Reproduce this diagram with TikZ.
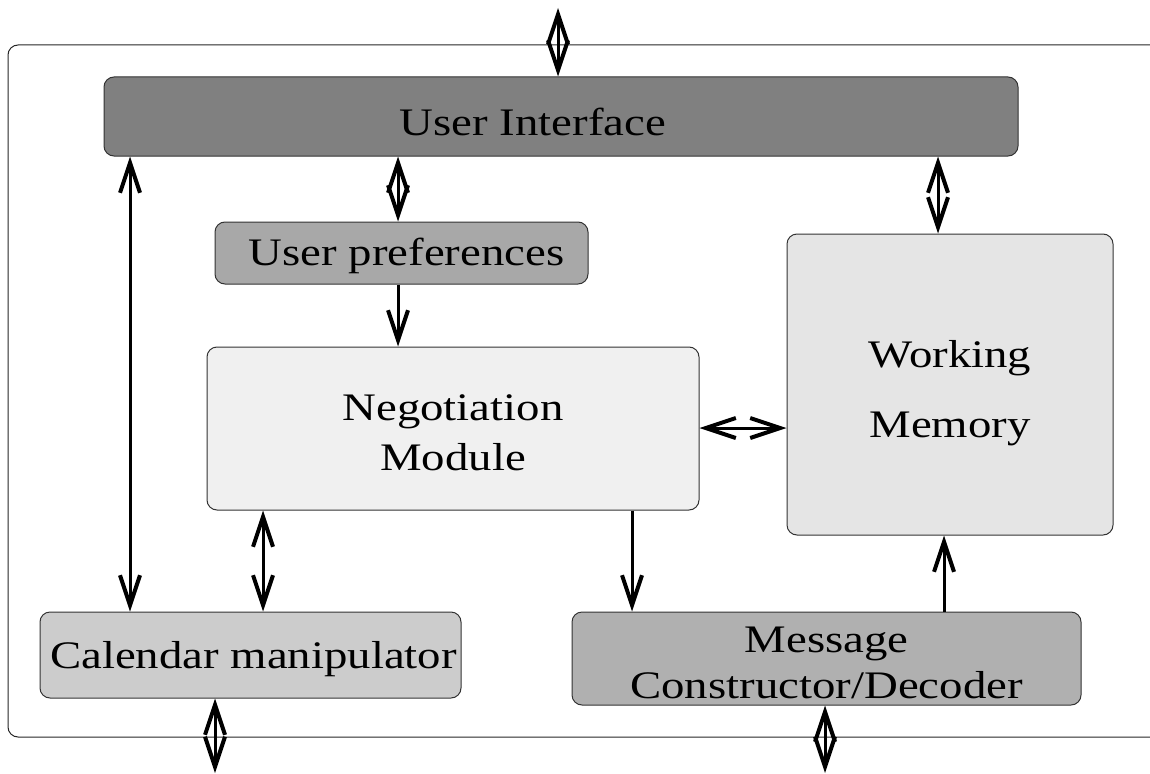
\documentclass[tikz,border=0pt]{standalone}
\usepackage{fontspec}
\newfontfamily\lblfont[FakeStretch=1.2]{Liberation Serif}
\usetikzlibrary{arrows.meta}
\definecolor{uigray}{gray}{0.50}
\definecolor{prefgray}{gray}{0.66}
\definecolor{neggray}{gray}{0.94}
\definecolor{memgray}{gray}{0.90}
\definecolor{calgray}{gray}{0.80}
\definecolor{msggray}{gray}{0.69}
\definecolor{edgegray}{gray}{0.2}
\tikzset{
  module/.style={draw=edgegray, line width=1pt, rounded corners=10pt, inner sep=0pt},
  caption/.style={inner sep=0pt, align=center, text=black, yshift=-4pt,
    font=\lblfont\fontsize{39}{50}\selectfont},
  barb/.tip={Straight Barb[length=30pt,width=20pt,line width=4pt]},
  link/.style={line width=3pt, -barb},
  dlink/.style={line width=3pt, barb-barb},
  frame/.style={draw=black!85, line width=1pt, rounded corners=10pt}
}
\begin{document}
\begin{tikzpicture}[x=1pt,y=-1pt]
\useasboundingbox (0,0) rectangle (1150,773);

% enclosing agent frame, open on the right
\draw[frame] (1150,45) -- (8,45) -- (8,737) -- (1150,737);

% modules, each with its caption
\node[module, fill=uigray, minimum width=914pt, minimum height=79pt,
      label={[caption, xshift=-28pt, yshift=-1pt]center:User Interface}] (ui) at (561,116.5) {};
\node[module, fill=prefgray, minimum width=373pt, minimum height=62pt,
      label={[caption, xshift=5pt, yshift=1pt]center:User preferences}] (up) at (401.5,253) {};
\node[module, fill=neggray, minimum width=492pt, minimum height=163pt,
      label={[caption]center:Negotiation\\Module}] (neg) at (453,428.5) {};
\node[module, fill=memgray, minimum width=326pt, minimum height=301pt,
      label={[caption, font=\lblfont\fontsize{39}{70}\selectfont, yshift=-5pt]center:Working\\Memory}] (wm) at (950,384.5) {};
\node[module, fill=calgray, minimum width=421pt, minimum height=86pt,
      label={[caption, xshift=3pt]center:Calendar manipulator}] (cal) at (250.5,655) {};
\node[module, fill=msggray, minimum width=509pt, minimum height=93pt,
      label={[caption, font=\lblfont\fontsize{39}{46}\selectfont]center:Message\\Constructor/Decoder}] (msg) at (826.5,658.5) {};

% free ends outside the frame
\coordinate (ext-top) at (558,8);
\coordinate (ext-cal) at (215,773);
\coordinate (ext-msg) at (825,773);

% connectors
\draw[dlink] (ext-top) -- (ext-top |- ui.north);
\draw[dlink] (ui.south -| 398,0) -- (up.north -| 398,0);
\draw[dlink] (ui.south -| 938,0) -- (wm.north -| 938,0);
\draw[dlink] (ui.south -| 130,0) -- (cal.north -| 130,0);
\draw[link] (up.south -| 398,0) -- (neg.north -| 398,0);
\draw[dlink] (neg.east |- 0,428) -- (wm.west |- 0,428);
\draw[dlink] (neg.south -| 263,0) -- (cal.north -| 263,0);
\draw[link] (neg.south -| 632,0) -- (msg.north -| 632,0);
\draw[link] (msg.north -| 944,0) -- (wm.south -| 944,0);
\draw[dlink] (cal.south -| ext-cal) -- (ext-cal);
\draw[dlink] (msg.south -| ext-msg) -- (ext-msg);
\end{tikzpicture}
\end{document}
